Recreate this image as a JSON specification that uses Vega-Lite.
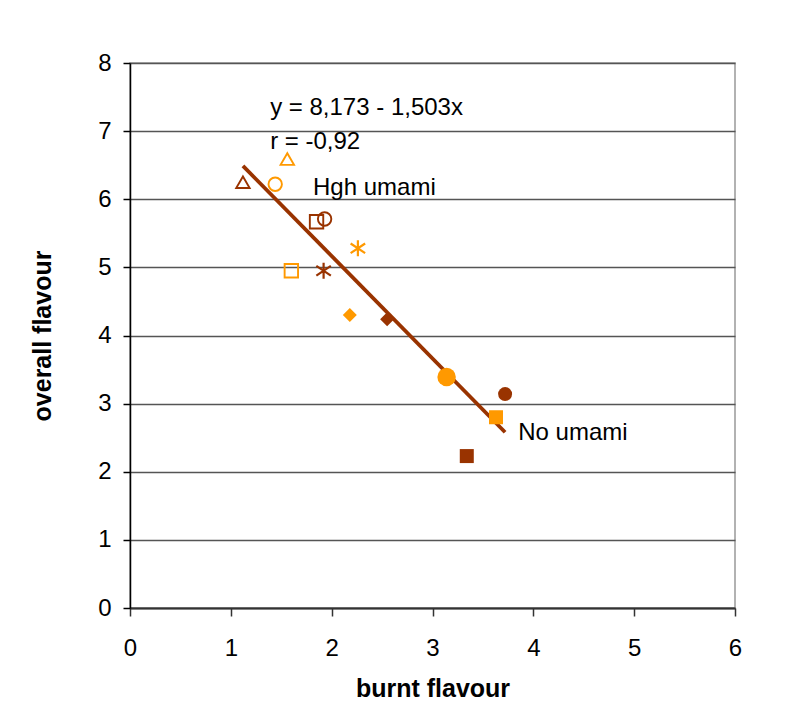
{
  "$schema": "https://vega.github.io/schema/vega-lite/v6.json",
  "width": 605,
  "height": 545,
  "autosize": {"type": "none"},
  "padding": {"left": 130, "top": 63, "right": 72, "bottom": 114},
  "background": "white",
  "config": {
    "font": "Liberation Sans",
    "view": {"stroke": "#999999", "strokeWidth": 1.5},
    "axis": {"labelFont": "Liberation Sans", "titleFont": "Liberation Sans", "labelColor": "black", "titleColor": "black"}
  },
  "datasets": {
    "points": [
      {"burnt": 1.56, "overall": 6.59, "set": "A", "type": "triangle"},
      {"burnt": 1.12, "overall": 6.25, "set": "B", "type": "triangle"},
      {"burnt": 1.44, "overall": 6.22, "set": "A", "type": "circle"},
      {"burnt": 1.85, "overall": 5.67, "set": "B", "type": "square"},
      {"burnt": 1.93, "overall": 5.71, "set": "B", "type": "circle"},
      {"burnt": 2.26, "overall": 5.28, "set": "A", "type": "star"},
      {"burnt": 1.60, "overall": 4.95, "set": "A", "type": "square"},
      {"burnt": 1.92, "overall": 4.95, "set": "B", "type": "star"},
      {"burnt": 2.18, "overall": 4.30, "set": "A", "type": "diamond"},
      {"burnt": 2.55, "overall": 4.24, "set": "B", "type": "diamond"},
      {"burnt": 3.14, "overall": 3.39, "set": "A", "type": "large dot"},
      {"burnt": 3.72, "overall": 3.14, "set": "B", "type": "dot"},
      {"burnt": 3.63, "overall": 2.80, "set": "A", "type": "block"},
      {"burnt": 3.34, "overall": 2.23, "set": "B", "type": "block"}
    ],
    "fit": [
      {"burnt": 1.12, "overall": 6.49},
      {"burnt": 3.72, "overall": 2.58}
    ],
    "notes": [
      {"burnt": 1.39, "overall": 7.34, "label": "y = 8,173 - 1,503x"},
      {"burnt": 1.39, "overall": 6.84, "label": "r = -0,92"},
      {"burnt": 1.815, "overall": 6.165, "label": "Hgh umami"},
      {"burnt": 3.85, "overall": 2.57, "label": "No umami"}
    ]
  },
  "layer": [
    {
      "data": {"name": "fit"},
      "mark": {"type": "line", "color": "#993300", "strokeWidth": 3.8},
      "encoding": {
        "x": {
          "field": "burnt", "type": "quantitative",
          "scale": {"domain": [0, 6], "nice": false, "zero": false},
          "axis": {
            "title": "burnt flavour", "titleFontSize": 25, "titleFontWeight": "bold",
            "titleY": 80, "titleBaseline": "middle", "format": "d",
            "values": [0, 1, 2, 3, 4, 5, 6], "labelFontSize": 24, "labelPadding": 20,
            "tickSize": 8, "tickColor": "#333333", "tickWidth": 1.5,
            "domainColor": "#333333", "domainWidth": 2, "grid": false, "labelFlush": false
          }
        },
        "y": {
          "field": "overall", "type": "quantitative",
          "scale": {"domain": [0, 8], "nice": false, "zero": false},
          "axis": {
            "title": "overall flavour", "titleFontSize": 25, "titleFontWeight": "bold",
            "titleX": -88, "titleBaseline": "middle", "titleAngle": -90, "format": "d",
            "values": [0, 1, 2, 3, 4, 5, 6, 7, 8], "labelFontSize": 24, "labelPadding": 12,
            "tickSize": 7, "tickColor": "black", "tickWidth": 1.5,
            "domainColor": "black", "domainWidth": 1.5,
            "grid": true, "gridColor": "#555555", "gridWidth": 1.5, "labelFlush": false
          }
        }
      }
    },
    {
      "data": {"name": "points"},
      "transform": [{"filter": {"field": "type", "oneOf": ["triangle", "circle", "square"]}}],
      "mark": {"type": "point", "filled": false, "strokeWidth": 1.9, "size": 180, "opacity": 1},
      "encoding": {
        "x": {"field": "burnt", "type": "quantitative"},
        "y": {"field": "overall", "type": "quantitative"},
        "color": {"field": "set", "type": "nominal", "scale": {"domain": ["A", "B"], "range": ["#FF9900", "#993300"]}, "legend": null},
        "shape": {"field": "type", "type": "nominal", "legend": null,
          "scale": {"domain": ["triangle", "circle", "square", "star", "diamond", "dot", "large dot", "block"],
                    "range": ["triangle-up", "circle", "square", "M0,-1V1M-0.9,-0.6L0.9,0.6M-0.9,0.6L0.9,-0.6", "diamond", "circle", "circle", "square"]}}
      }
    },
    {
      "data": {"name": "points"},
      "transform": [{"filter": {"field": "type", "equal": "star"}}],
      "mark": {"type": "point", "filled": false, "strokeWidth": 2.2, "size": 260, "opacity": 1},
      "encoding": {
        "x": {"field": "burnt", "type": "quantitative"},
        "y": {"field": "overall", "type": "quantitative"},
        "color": {"field": "set", "type": "nominal", "legend": null},
        "shape": {"field": "type", "type": "nominal", "legend": null}
      }
    },
    {
      "data": {"name": "points"},
      "transform": [{"filter": {"field": "type", "oneOf": ["diamond", "dot", "block"]}}],
      "mark": {"type": "point", "filled": true, "size": 196, "opacity": 1},
      "encoding": {
        "x": {"field": "burnt", "type": "quantitative"},
        "y": {"field": "overall", "type": "quantitative"},
        "color": {"field": "set", "type": "nominal", "legend": null},
        "shape": {"field": "type", "type": "nominal", "legend": null}
      }
    },
    {
      "data": {"name": "points"},
      "transform": [{"filter": {"field": "type", "equal": "large dot"}}],
      "mark": {"type": "point", "filled": true, "size": 340, "opacity": 1},
      "encoding": {
        "x": {"field": "burnt", "type": "quantitative"},
        "y": {"field": "overall", "type": "quantitative"},
        "color": {"field": "set", "type": "nominal", "legend": null},
        "shape": {"field": "type", "type": "nominal", "legend": null}
      }
    },
    {
      "data": {"name": "notes"},
      "mark": {"type": "text", "align": "left", "baseline": "middle", "fontSize": 24, "color": "black", "font": "Liberation Sans"},
      "encoding": {
        "x": {"field": "burnt", "type": "quantitative"},
        "y": {"field": "overall", "type": "quantitative"},
        "text": {"field": "label", "type": "nominal"}
      }
    }
  ]
}
